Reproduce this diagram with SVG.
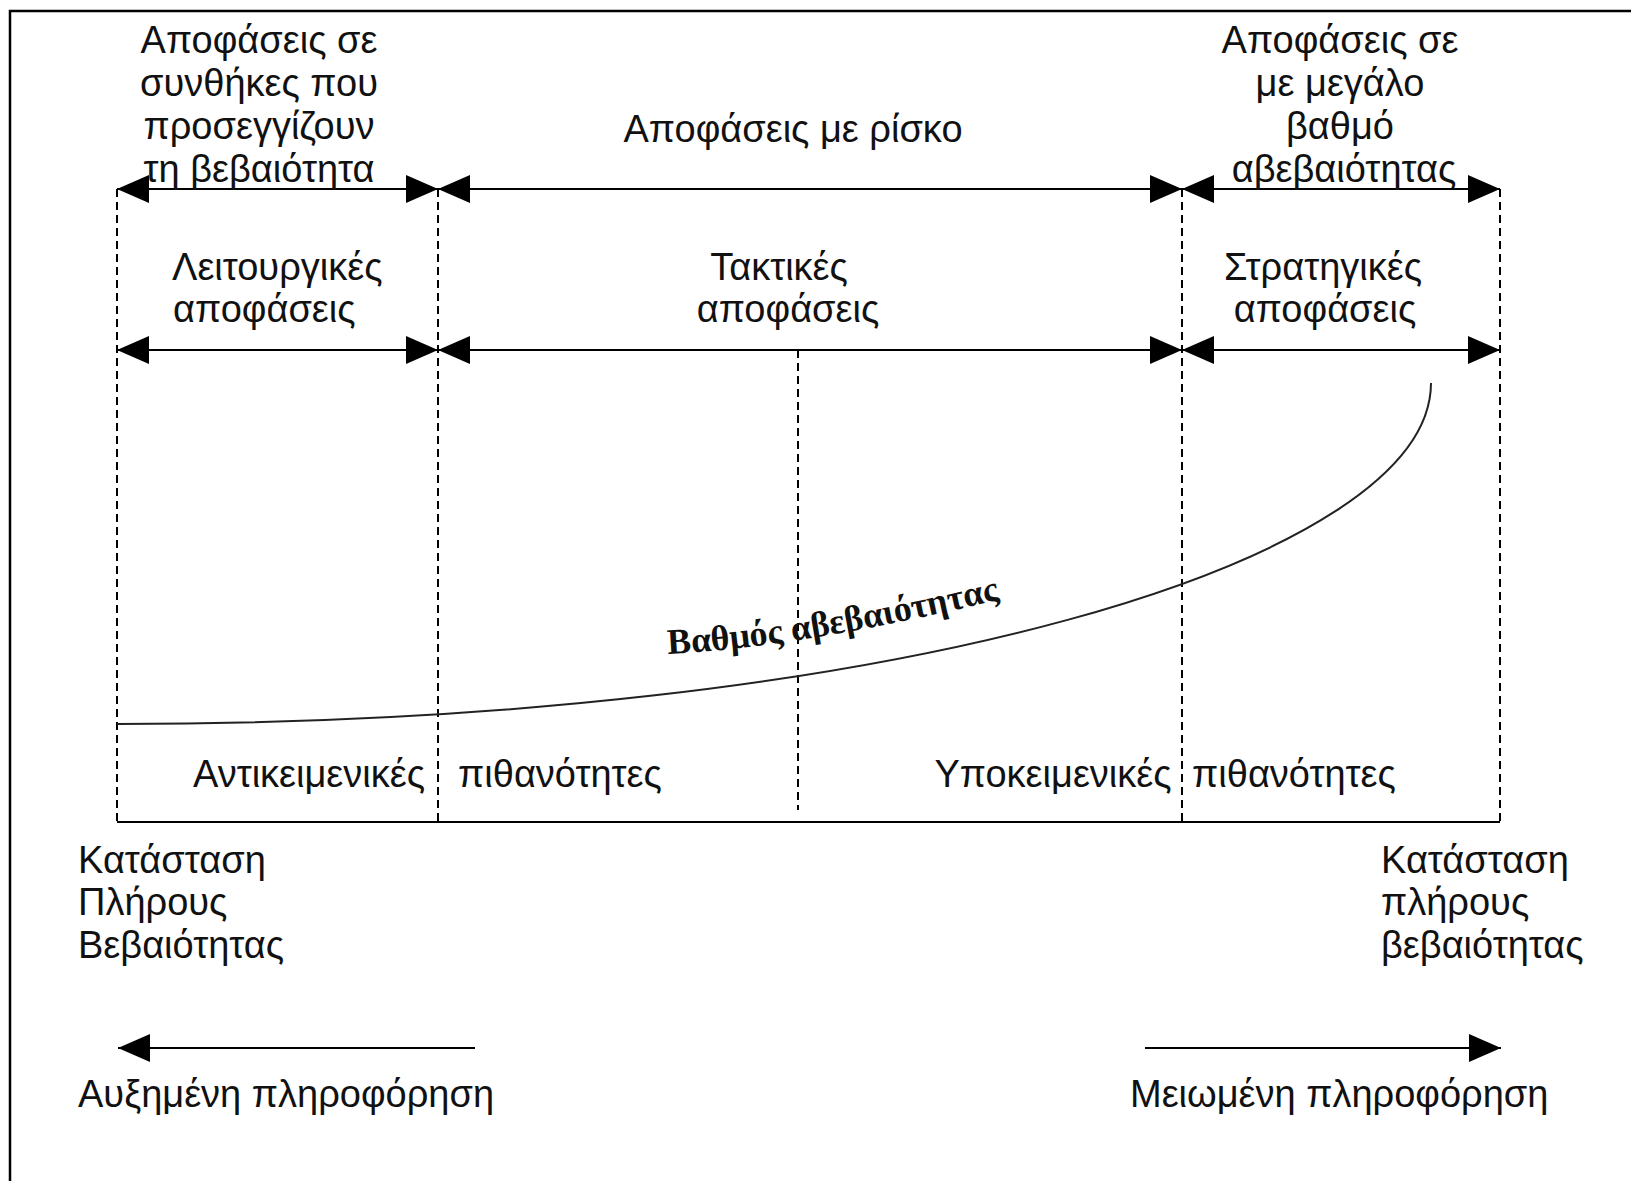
<svg xmlns="http://www.w3.org/2000/svg" width="1631" height="1181" viewBox="0 0 1631 1181">
<style>
  .t { font-family: "Liberation Sans", Arial, sans-serif; font-size: 38px; fill: #111; }
  .m { text-anchor: middle; }
  .ln { stroke: #000; stroke-width: 2.2; fill: none; }
  .dash { stroke: #000; stroke-width: 2; stroke-dasharray: 8 5; fill: none; }
  .curve { stroke: #222; stroke-width: 2; fill: none; }
  .rot { font-family: "Liberation Serif", "Times New Roman", serif; font-weight: bold; font-size: 36px; fill: #111; }
</style>
<defs>
  <marker id="ah" markerUnits="userSpaceOnUse" markerWidth="32" markerHeight="28" refX="32" refY="14" orient="auto-start-reverse" viewBox="0 0 32 28">
    <path d="M0,0 L32,14 L0,28 z" fill="#000"/>
  </marker>
  <path id="arcText" d="M668,654 Q 800,648 1015,596"/>
</defs>
<rect x="0" y="0" width="1631" height="1181" fill="#fff"/>
<rect x="10" y="11" width="1650" height="1200" fill="none" stroke="#000" stroke-width="2.5"/>

<g id="connectors">
  <line class="dash" x1="117" y1="189" x2="117" y2="822"/>
  <line class="dash" x1="438" y1="189" x2="438" y2="822"/>
  <line class="dash" x1="1182" y1="189" x2="1182" y2="822"/>
  <line class="dash" x1="1500" y1="189" x2="1500" y2="822"/>
  <line class="dash" x1="798" y1="350" x2="798" y2="810"/>
  <line class="ln" x1="117" y1="822" x2="1500" y2="822"/>
  <line class="ln" x1="117" y1="189" x2="438" y2="189" marker-start="url(#ah)" marker-end="url(#ah)"/>
  <line class="ln" x1="438" y1="189" x2="1182" y2="189" marker-start="url(#ah)" marker-end="url(#ah)"/>
  <line class="ln" x1="1182" y1="189" x2="1500" y2="189" marker-start="url(#ah)" marker-end="url(#ah)"/>
  <line class="ln" x1="117" y1="350" x2="438" y2="350" marker-start="url(#ah)" marker-end="url(#ah)"/>
  <line class="ln" x1="438" y1="350" x2="1182" y2="350" marker-start="url(#ah)" marker-end="url(#ah)"/>
  <line class="ln" x1="1182" y1="350" x2="1500" y2="350" marker-start="url(#ah)" marker-end="url(#ah)"/>
  <path class="curve" d="M117,724 C900,724 1431,560 1431,383"/>
  <line class="ln" x1="475" y1="1048" x2="118" y2="1048" marker-end="url(#ah)"/>
  <line class="ln" x1="1145" y1="1048" x2="1501" y2="1048" marker-end="url(#ah)"/>
</g>

<g id="near-certainty">
  <text class="t m" x="259" y="53">Αποφάσεις σε</text>
  <text class="t m" x="259" y="96">συνθήκες που</text>
  <text class="t m" x="259" y="139">προσεγγίζουν</text>
  <text class="t m" x="259" y="182">τη βεβαιότητα</text>
</g>
<g id="risk">
  <text class="t m" x="793" y="142">Αποφάσεις με ρίσκο</text>
</g>
<g id="high-uncertainty">
  <text class="t m" x="1340" y="53">Αποφάσεις σε</text>
  <text class="t m" x="1340" y="96">με μεγάλο</text>
  <text class="t m" x="1340" y="139">βαθμό</text>
  <text class="t m" x="1344" y="182">αβεβαιότητας</text>
</g>
<g id="operational">
  <text class="t" x="172" y="280">Λειτουργικές</text>
  <text class="t" x="173" y="322">αποφάσεις</text>
</g>
<g id="tactical">
  <text class="t m" x="779" y="280">Τακτικές</text>
  <text class="t m" x="788" y="322">αποφάσεις</text>
</g>
<g id="strategic">
  <text class="t m" x="1323" y="280">Στρατηγικές</text>
  <text class="t m" x="1325" y="322">αποφάσεις</text>
</g>
<g id="uncertainty-degree">
  <text class="rot"><textPath href="#arcText">Βαθμός αβεβαιότητας</textPath></text>
</g>
<g id="objective">
  <text class="t m" x="309" y="787">Αντικειμενικές</text>
  <text class="t m" x="560" y="787">πιθανότητες</text>
</g>
<g id="subjective">
  <text class="t m" x="1053" y="787">Υποκειμενικές</text>
  <text class="t m" x="1294" y="787">πιθανότητες</text>
</g>
<g id="full-certainty-left">
  <text class="t" x="78" y="873">Κατάσταση</text>
  <text class="t" x="78" y="915">Πλήρους</text>
  <text class="t" x="78" y="958">Βεβαιότητας</text>
</g>
<g id="full-certainty-right">
  <text class="t" x="1381" y="873">Κατάσταση</text>
  <text class="t" x="1381" y="915">πλήρους</text>
  <text class="t" x="1381" y="958">βεβαιότητας</text>
</g>
<g id="increased-info">
  <text class="t" x="78" y="1107">Αυξημένη πληροφόρηση</text>
</g>
<g id="reduced-info">
  <text class="t" x="1130" y="1107">Μειωμένη πληροφόρηση</text>
</g>
</svg>
